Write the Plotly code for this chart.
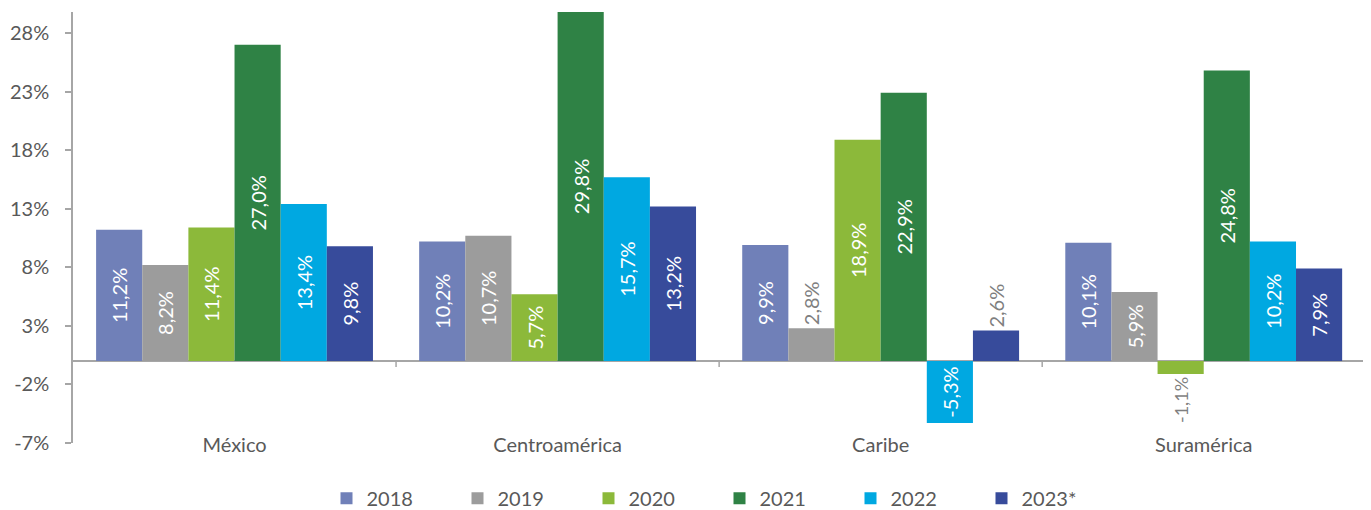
import plotly.graph_objects as go

regions = ["México", "Centroamérica", "Caribe", "Suramérica"]
years = ["2018", "2019", "2020", "2021", "2022", "2023*"]
v2018 = [11.2, 10.2, 9.9, 10.1]
v2019 = [8.2, 10.7, 2.8, 5.9]
v2020 = [11.4, 5.7, 18.9, -1.1]
v2021 = [27.0, 29.8, 22.9, 24.8]
v2022 = [13.4, 15.7, -5.3, 10.2]
v2023 = [9.8, 13.2, 2.6, 7.9]
series = [v2018, v2019, v2020, v2021, v2022, v2023]
colors = ["#7080B8", "#9C9C9C", "#8CB93A", "#2F8245", "#00A8E1", "#374B9B"]
y_ticks = [-7, -2, 3, 8, 13, 18, 23, 28]

FONT = "Lato"
GREY = "#595959"

fig = go.Figure()
for name, vals, col in zip(years, series, colors):
    texts = [f"{v:.1f}".replace(".", ",") + "%" for v in vals]
    pos = ["outside" if abs(v) < 4 else "inside" for v in vals]
    fig.add_trace(go.Bar(
        name=name, x=regions, y=vals, marker=dict(color=col, line=dict(width=0)),
        text=texts, textposition=pos, textangle=-90, insidetextanchor="middle",
        insidetextfont=dict(color="white", size=20, family=FONT),
        outsidetextfont=dict(color="#7F7F7F", size=20, family=FONT),
        cliponaxis=False, hoverinfo="skip",
    ))

shapes = []
for b in [0.5, 1.5, 2.5, 3.5]:
    shapes.append(dict(type="line", xref="x", yref="y", x0=b, x1=b,
                       ysizemode="pixel", yanchor=0, y0=0, y1=-6,
                       line=dict(color="#A6A6A6", width=1.5)))

# page body has an 8px default margin: figure sized to fill the remaining window
fig.update_layout(
    width=1363, height=502,
    margin=dict(l=65, r=5, t=4, b=67, autoexpand=False),
    paper_bgcolor="white", plot_bgcolor="white",
    barmode="group", bargap=0.143, bargroupgap=0,
    font=dict(family=FONT, size=20, color=GREY),
    shapes=shapes,
    showlegend=True,
    legend=dict(orientation="h", xanchor="center", x=0.5, yanchor="middle", y=-0.128,
                font=dict(size=20, color=GREY, family=FONT),
                entrywidth=86, entrywidthmode="pixels", traceorder="normal"),
    xaxis=dict(showline=False, ticks="", showgrid=False, zeroline=False, automargin=False,
               ticklabelstandoff=-12, tickfont=dict(size=20, color=GREY)),
    yaxis=dict(range=[-7, 29.8], tickvals=y_ticks, ticktext=[f"{t}%" for t in y_ticks],
               showgrid=False, showline=True, linecolor="#A6A6A6", linewidth=1.5,
               ticks="outside", ticklen=6, tickcolor="#A6A6A6", tickwidth=1.5,
               ticklabelstandoff=12, automargin=False,
               zeroline=True, zerolinecolor="#A6A6A6", zerolinewidth=1.5,
               tickfont=dict(size=20, color=GREY)),
)

fig.write_html("out.html")
